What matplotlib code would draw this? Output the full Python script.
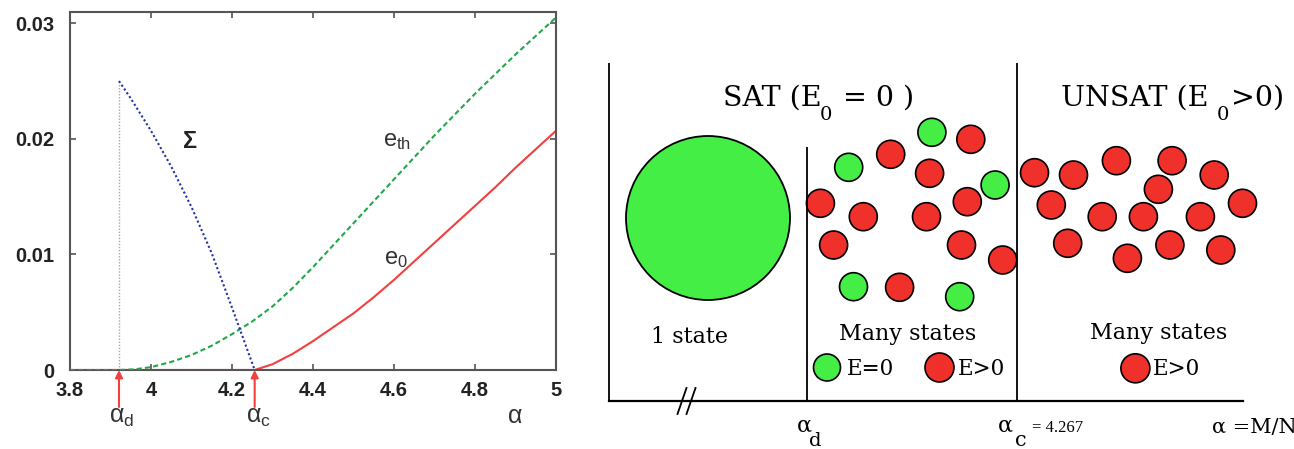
import matplotlib
matplotlib.use("Agg")
import matplotlib.pyplot as plt
from matplotlib.patches import Circle

# ---------------- data: left panel ----------------
alpha_ticks = [3.8, 4.0, 4.2, 4.4, 4.6, 4.8, 5.0]
alpha_tick_labels = ["3.8", "4", "4.2", "4.4", "4.6", "4.8", "5"]
energy_ticks = [0.0, 0.01, 0.02, 0.03]
energy_tick_labels = ["0", "0.01", "0.02", "0.03"]

alpha_d = 3.921
alpha_c = 4.256

sigma_alpha = [3.921, 3.95, 4.0, 4.05, 4.1, 4.15, 4.2, 4.256]
sigma_vals = [0.0250, 0.0235, 0.0207, 0.0176, 0.0141, 0.0101, 0.0054, 0.0]

eth_alpha = [3.8, 3.921, 3.96, 4.0, 4.05, 4.1, 4.15, 4.2, 4.25, 4.3, 4.35, 4.4,
             4.45, 4.5, 4.55, 4.6, 4.65, 4.7, 4.75, 4.8, 4.85, 4.9, 4.95, 5.0]
eth_vals = [0.0, 0.0, 0.00006, 0.00025, 0.0007, 0.0013, 0.0021, 0.0031, 0.0042,
            0.0055, 0.0071, 0.0089, 0.0108, 0.0127, 0.0146, 0.0165, 0.0184,
            0.0203, 0.0221, 0.0239, 0.0256, 0.0273, 0.0289, 0.0305]

e0_alpha = [3.8, 4.256, 4.3, 4.35, 4.4, 4.45, 4.5, 4.55, 4.6, 4.65, 4.7, 4.75,
            4.8, 4.85, 4.9, 4.95, 5.0]
e0_vals = [0.0, 0.0, 0.0005, 0.0014, 0.0025, 0.0037, 0.0049, 0.0063, 0.0078,
           0.0094, 0.0110, 0.0126, 0.0142, 0.0158, 0.0175, 0.0191, 0.0207]

# ---------------- data: right panel (diagram, pixel-like units) ----------------
big_state = (708.0, 218.0, 82.0)
green_x = [931.9, 848.7, 995.1, 853.5, 959.7]
green_y = [132.3, 167.3, 185.0, 286.7, 296.7]
red_sat_x = [970.8, 890.7, 929.6, 820.4, 863.3, 926.5, 967.3, 833.6, 961.5, 1002.7, 899.6]
red_sat_y = [139.3, 154.3, 173.3, 203.3, 216.7, 216.7, 201.7, 245.0, 245.0, 260.0, 287.3]
red_unsat_x = [1034.5, 1073.5, 1116.4, 1172.1, 1214.2, 1158.4, 1051.3, 1102.2,
               1143.4, 1200.4, 1242.5, 1067.7, 1127.4, 1169.9, 1220.8]
red_unsat_y = [172.7, 175.0, 160.7, 160.7, 175.0, 189.3, 205.0, 216.7,
               216.7, 216.7, 203.3, 243.3, 258.3, 245.0, 250.0]

W, H = 1294, 449
fig = plt.figure(figsize=(W / 100, H / 100), dpi=100)

# ---------------- left panel ----------------
ax = fig.add_axes([70 / W, 1 - 370 / H, (556 - 70) / W, (370 - 11.7) / H])
ax.set_xlim(3.8, 5.0)
ax.set_ylim(0, 0.031)

RED = "#f0403f"
GREEN = "#22a84a"
BLUE = "#2233a0"

ax.plot([alpha_d, alpha_d], [0, sigma_vals[0]], color="#a8a8a8", lw=1.0,
        ls=(0, (1, 1.2)), zorder=1)
ax.plot(eth_alpha, eth_vals, color=GREEN, lw=1.5, ls=(0, (2.5, 1.5)), zorder=3)
ax.plot(e0_alpha, e0_vals, color=RED, lw=1.5, zorder=2)
ax.plot(sigma_alpha, sigma_vals, color=BLUE, lw=1.5, ls=(0, (1, 1.2)), zorder=3)

ax.set_xticks(alpha_ticks)
ax.set_xticklabels(alpha_tick_labels)
ax.set_yticks(energy_ticks)
ax.set_yticklabels(energy_tick_labels)
ax.tick_params(direction="in", length=4, width=1.2, color="#555555",
               top=True, right=True, labelsize=14.5)
ax.tick_params(axis="x", pad=8)
ax.tick_params(axis="y", pad=11)
for lab in ax.get_xticklabels() + ax.get_yticklabels():
    lab.set_fontfamily("Liberation Sans")
    lab.set_fontweight("bold")
    lab.set_color("#222222")
for sp in ax.spines.values():
    sp.set_color("#555555")
    sp.set_linewidth(1.5)

sans = ["Liberation Sans", "DejaVu Sans"]
ax.text(4.080, 0.0192, "Σ", fontsize=17, fontweight="bold", family=sans,
        color="#222222", va="baseline")
ax.text(4.572, 0.0194, r"$\mathregular{e_{th}}$", fontsize=17, family=sans,
        color="#333333", va="baseline")
ax.text(4.576, 0.0092, r"$\mathregular{e_{0}}$", fontsize=17, family=sans,
        color="#333333", va="baseline")

for a in (alpha_d, alpha_c):
    ax.annotate("", xy=(a, 0), xytext=(a, -0.0032),
                arrowprops=dict(arrowstyle="-|>", color=RED, lw=1.5,
                                mutation_scale=11, shrinkA=0, shrinkB=0),
                annotation_clip=False)
ax.text(3.897, -0.0046, r"$\mathregular{α_d}$", fontsize=18, family=sans,
        color="#333333", va="baseline", clip_on=False)
ax.text(4.234, -0.0046, r"$\mathregular{α_c}$", fontsize=18, family=sans,
        color="#333333", va="baseline", clip_on=False)
ax.text(4.90, -0.0046, "α", fontsize=18, family=sans, color="#333333",
        ha="center", va="baseline", clip_on=False)

# ---------------- right panel ----------------
ax2 = fig.add_axes([600 / W, 0, (W - 600) / W, 1])
ax2.set_xlim(600, W)
ax2.set_ylim(H, 0)
ax2.axis("off")

lk = dict(color="black", lw=1.3, solid_capstyle="butt")
ax2.plot([609.5, 609.5], [62.5, 400.5], **lk)
ax2.plot([806.7, 806.7], [147, 400.5], **lk)
ax2.plot([1017.5, 1017.5], [62.5, 400.5], **lk)
ax2.plot([609.5, 1242.7], [400.5, 400.5], color="black", lw=1.6)
ax2.plot([677.5, 686.5], [414, 388], color="black", lw=1.3)
ax2.plot([686.5, 695.5], [414, 388], color="black", lw=1.3)

GFILL = "#44ee44"
RFILL = "#f0302a"
ax2.add_patch(Circle(big_state[:2], big_state[2], facecolor=GFILL,
                     edgecolor="black", lw=1.3))
r = 14
for x, y in zip(green_x, green_y):
    ax2.add_patch(Circle((x, y), r, facecolor=GFILL, edgecolor="black", lw=1.2))
for x, y in zip(red_sat_x + red_unsat_x, red_sat_y + red_unsat_y):
    ax2.add_patch(Circle((x, y), r, facecolor=RFILL, edgecolor="black", lw=1.2))

# legend circles
ax2.add_patch(Circle((827, 367.5), 13.5, facecolor=GFILL, edgecolor="black", lw=1.2))
ax2.add_patch(Circle((939.5, 367.5), 14.5, facecolor=RFILL, edgecolor="black", lw=1.2))
ax2.add_patch(Circle((1135.4, 368.3), 14.5, facecolor=RFILL, edgecolor="black", lw=1.2))

serif = ["DejaVu Serif"]
tk = dict(family=serif, color="black", va="baseline")
ax2.text(722.7, 105.7, "SAT (E", fontsize=20.5, ha="left", **tk)
ax2.text(820, 120, "0", fontsize=14, ha="left", **tk)
ax2.text(879, 105.7, "= 0 )", fontsize=20.5, ha="center", **tk)
ax2.text(1060.7, 106, "UNSAT (E", fontsize=20.5, ha="left", **tk)
ax2.text(1216.7, 120, "0", fontsize=14, ha="left", **tk)
ax2.text(1257.5, 106, ">0)", fontsize=20.5, ha="center", **tk)

ax2.text(690, 343.3, "1 state", fontsize=16, ha="center", **tk)
ax2.text(907.4, 340, "Many states", fontsize=16, ha="center", **tk)
ax2.text(1159, 339, "Many states", fontsize=16, ha="center", **tk)
ax2.text(846.7, 375, "E=0", fontsize=15.5, ha="left", **tk)
ax2.text(958.3, 375, "E>0", fontsize=15.5, ha="left", **tk)
ax2.text(1153, 375, "E>0", fontsize=15.5, ha="left", **tk)

ax2.text(796.7, 432, "α", fontsize=16, ha="left", **tk)
ax2.text(809.5, 446, "d", fontsize=14, ha="left", **tk)
ax2.text(998, 432, "α", fontsize=16, ha="left", **tk)
ax2.text(1015.5, 446, "c", fontsize=15, ha="left", **tk)
ax2.text(1031.7, 431.7, "= 4.267", fontsize=12, ha="left",
         family=["Liberation Serif"], color="black", va="baseline")
ax2.text(1211.7, 433.3, "α =M/N", fontsize=15, ha="left", **tk)

fig.savefig("out.png", dpi=100)
